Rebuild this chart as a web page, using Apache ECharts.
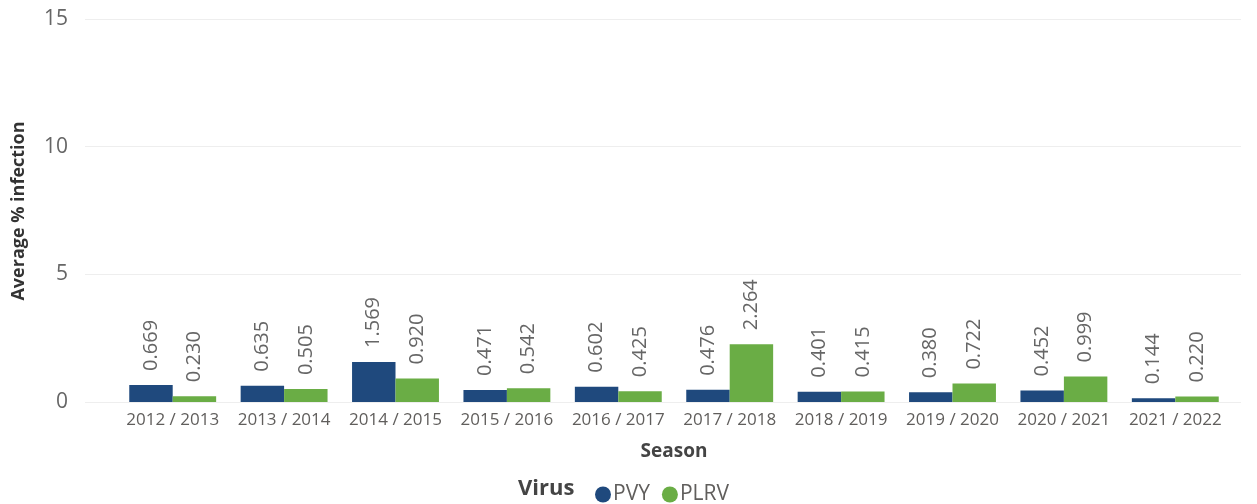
<!DOCTYPE html>
<html>
<head>
<meta charset="utf-8">
<script src="https://cdn.jsdelivr.net/npm/echarts@6/dist/echarts.min.js"></script>
<style>
  html, body { margin: 0; padding: 0; background: #fff; }
  #main { width: 1257px; height: 504px; }
</style>
</head>
<body>
<div id="main"></div>
<script>
var seasons = ['2012 / 2013', '2013 / 2014', '2014 / 2015', '2015 / 2016', '2016 / 2017',
               '2017 / 2018', '2018 / 2019', '2019 / 2020', '2020 / 2021', '2021 / 2022'];
var pvy  = [0.669, 0.635, 1.569, 0.471, 0.602, 0.476, 0.401, 0.380, 0.452, 0.144];
var plrv = [0.230, 0.505, 0.920, 0.542, 0.425, 2.264, 0.415, 0.722, 0.999, 0.220];
var yTicks = [0, 5, 10, 15];

var font = '"Open Sans", "Noto Sans", sans-serif';
var myChart = echarts.init(document.getElementById('main'));

var labelStyle = {
  show: true,
  position: 'top',
  rotate: 90,
  align: 'left',
  verticalAlign: 'middle',
  distance: 14,
  fontFamily: font,
  fontSize: 20,
  color: '#666666',
  formatter: function (p) { return p.value.toFixed(3); }
};

var option = {
  animation: false,
  textStyle: { fontFamily: font },
  grid: [
    // bars
    { left: 117, right: 26, top: 19, bottom: 102 },
    // background gridlines (wider than the category band)
    { left: 85, right: 16, top: 19, bottom: 102 }
  ],
  legend: {
    data: ['PVY', 'PLRV'],
    left: 590,
    top: 479,
    icon: 'circle',
    itemWidth: 16,
    itemHeight: 16,
    itemGap: 12,
    textStyle: { fontFamily: font, fontSize: 21, color: '#605E5C', padding: [0, 0, 0, -3] }
  },
  graphic: [{
    type: 'text',
    left: 518,
    top: 478,
    style: { text: 'Virus', fontFamily: font, fontSize: 22, fontWeight: 'bold', fill: '#444444' }
  }, {
    type: 'text',
    x: 19,
    y: 211,
    rotation: Math.PI / 2,
    style: {
      text: 'Average % infection',
      fontFamily: font, fontSize: 18, fontWeight: 'bold', fill: '#333333',
      align: 'center', verticalAlign: 'middle'
    }
  }],
  xAxis: [{
    type: 'category',
    gridIndex: 0,
    data: seasons,
    name: 'Season',
    nameLocation: 'middle',
    nameGap: 40,
    nameTextStyle: { fontFamily: font, fontSize: 19, fontWeight: 'bold', color: '#444444' },
    axisLine: { show: false },
    axisTick: { show: false },
    axisLabel: { interval: 0, fontFamily: font, fontSize: 17, color: '#605E5C', margin: 10 }
  }, {
    type: 'value',
    gridIndex: 1,
    show: false
  }],
  yAxis: [{
    type: 'value',
    gridIndex: 0,
    min: 0, max: 15, interval: 5,
    show: false,
    splitLine: { show: false }
  }, {
    type: 'value',
    gridIndex: 1,
    min: yTicks[0], max: yTicks[yTicks.length - 1], interval: 5,
    axisLine: { show: false },
    axisTick: { show: false },
    axisLabel: { fontFamily: font, fontSize: 21, color: '#666666', margin: 17 },
    splitLine: { lineStyle: { color: '#EEEEEE', width: 1 } }
  }],
  series: [{
    name: 'PVY',
    type: 'bar',
    xAxisIndex: 0, yAxisIndex: 0,
    data: pvy,
    barCategoryGap: '22%',
    barGap: '0%',
    itemStyle: { color: '#1F497D' },
    label: labelStyle
  }, {
    name: 'PLRV',
    type: 'bar',
    xAxisIndex: 0, yAxisIndex: 0,
    data: plrv,
    barCategoryGap: '22%',
    barGap: '0%',
    itemStyle: { color: '#6AAD45' },
    label: labelStyle
  }]
};

myChart.setOption(option);
</script>
</body>
</html>
